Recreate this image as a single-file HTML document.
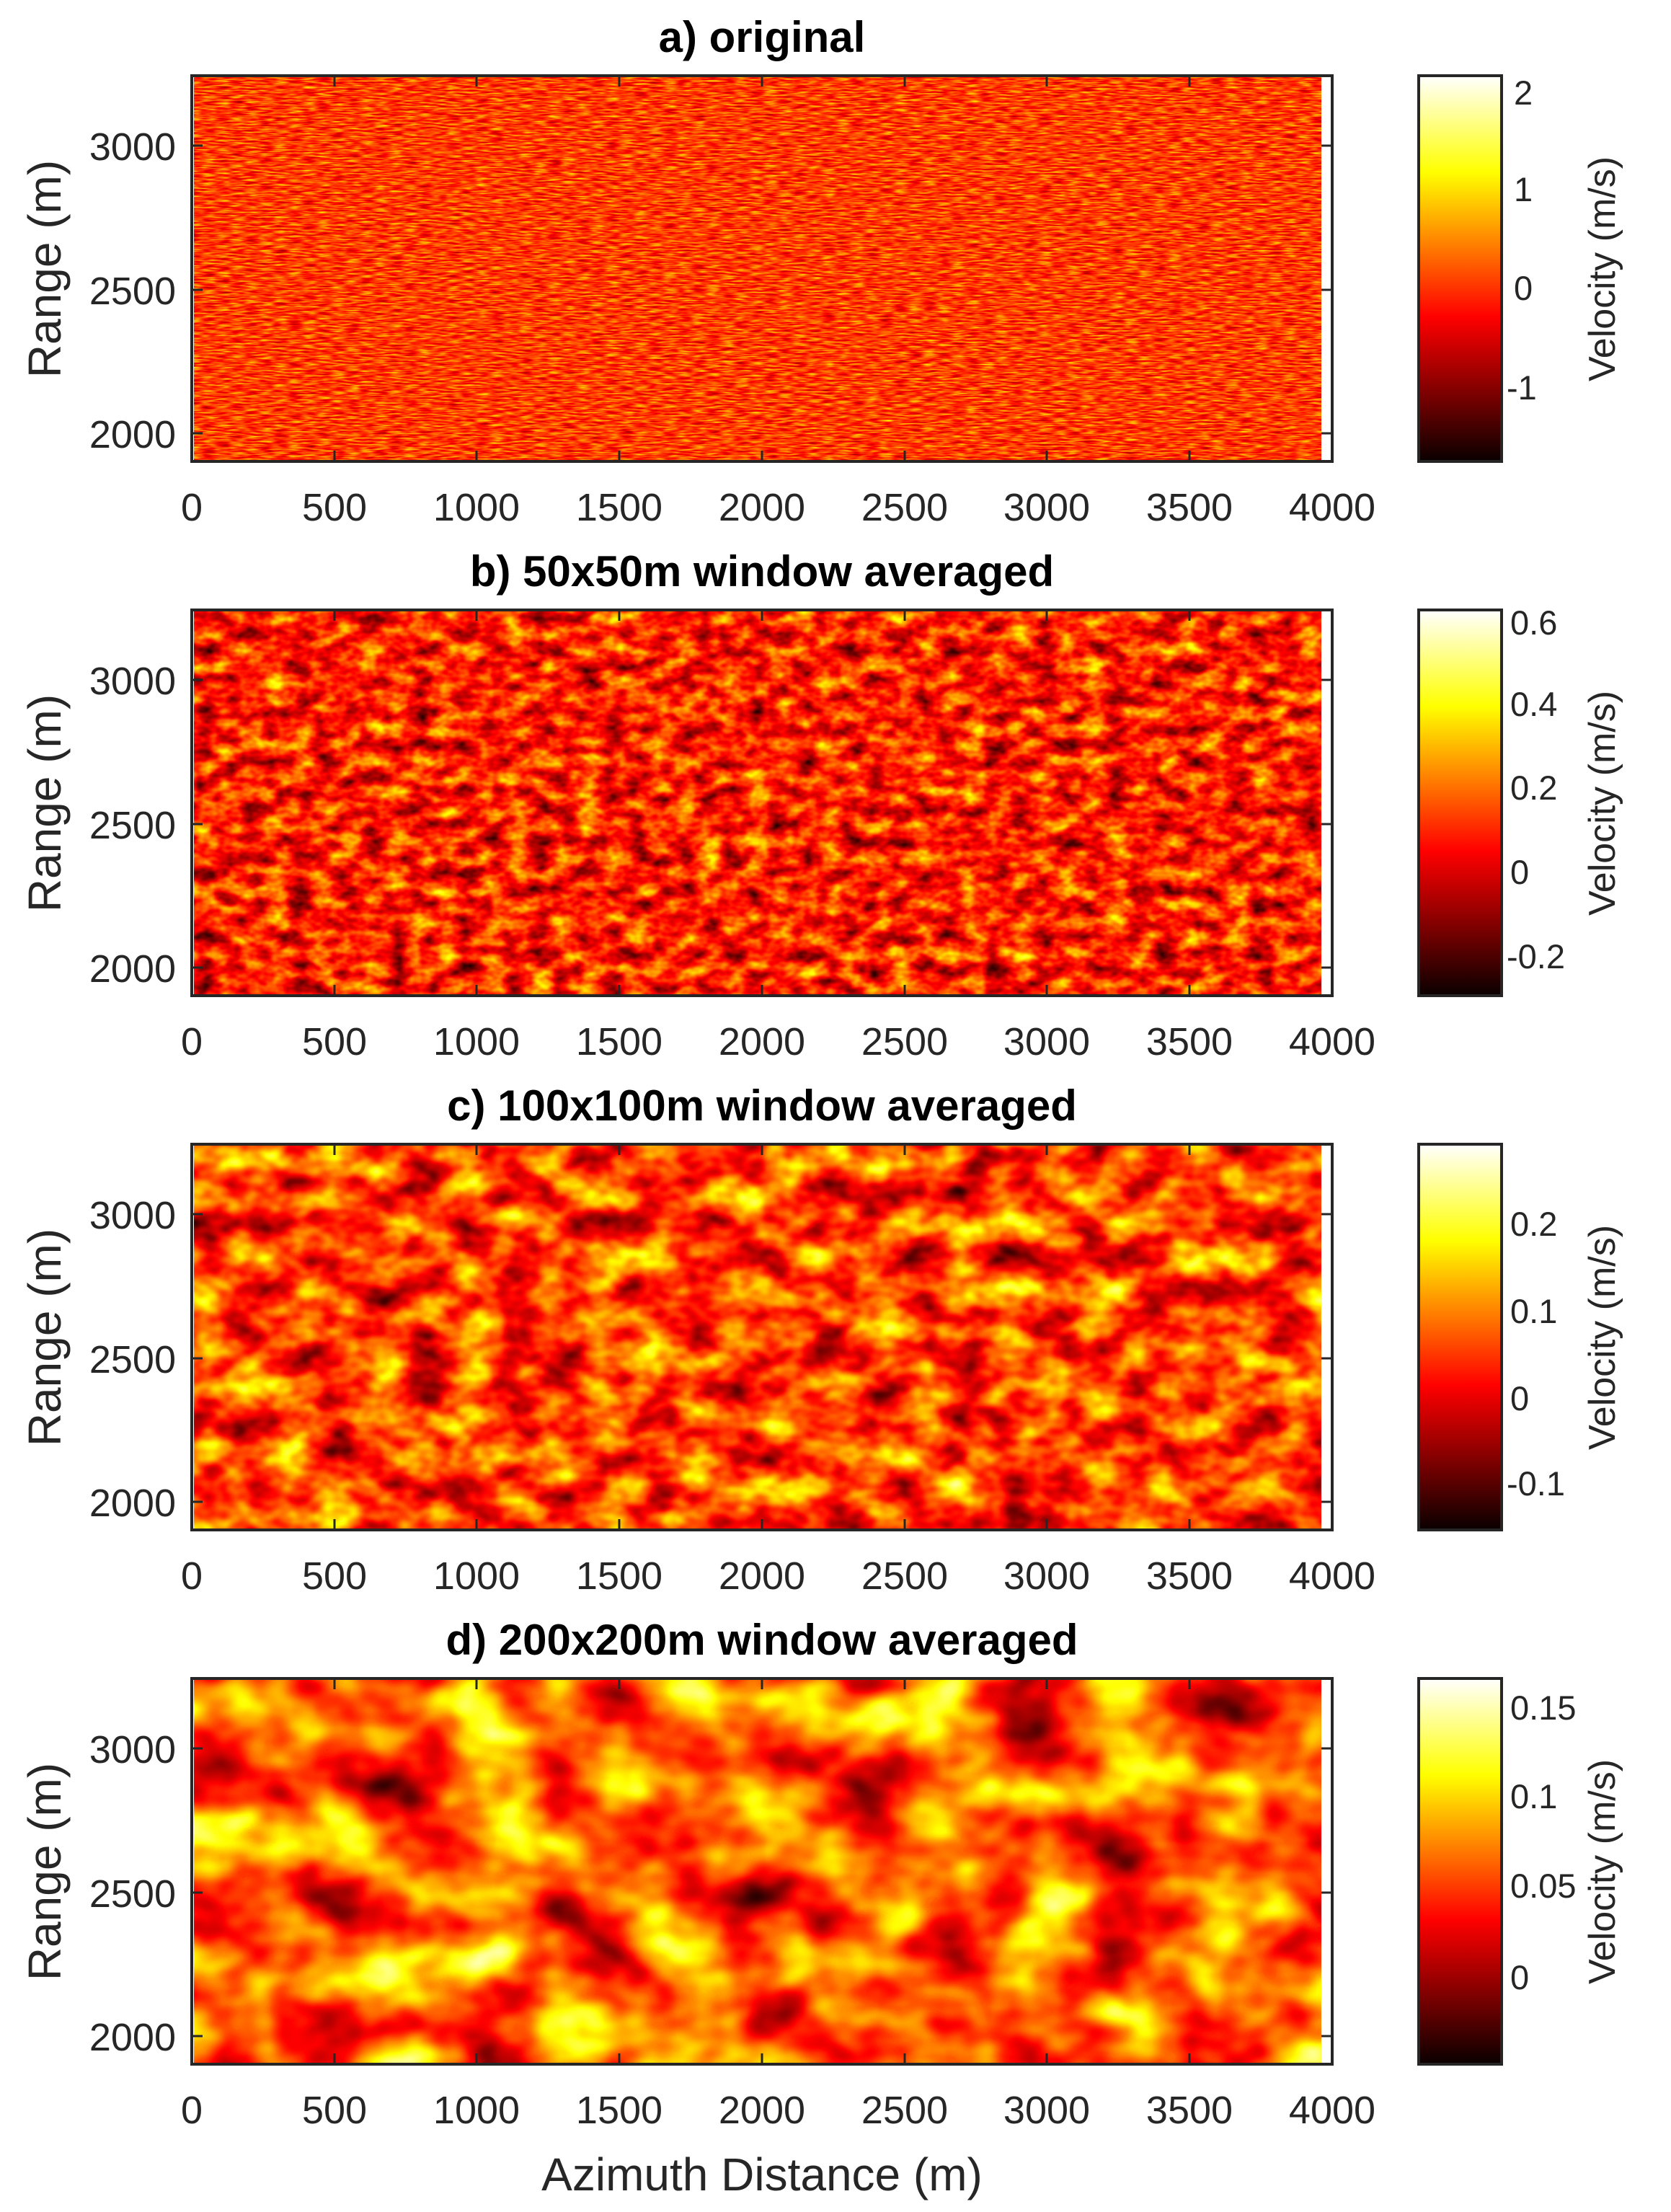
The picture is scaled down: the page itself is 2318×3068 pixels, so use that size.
<!DOCTYPE html>
<html><head><meta charset="utf-8"><style>html,body{margin:0;padding:0;background:#fff}svg{display:block}</style></head>
<body>
<svg width="2318" height="3068" viewBox="0 0 2318 3068" xmlns="http://www.w3.org/2000/svg" font-family="Liberation Sans, sans-serif">
<defs>
<linearGradient id="hot" x1="0" y1="0" x2="0" y2="1">
<stop offset="0" stop-color="#ffffff"/><stop offset="0.25" stop-color="#ffff00"/><stop offset="0.625" stop-color="#ff0000"/><stop offset="1" stop-color="#0a0000"/>
</linearGradient>
<filter id="fa" x="0" y="0" width="100%" height="100%" color-interpolation-filters="sRGB">
<feTurbulence type="fractalNoise" baseFrequency="0.05 0.45" numOctaves="2" seed="3"/>
<feColorMatrix type="matrix" values="1 0 0 0 0 1 0 0 0 0 1 0 0 0 0 0 0 0 0 1"/>
<feComponentTransfer><feFuncR type="linear" slope="0.65" intercept="0.14"/><feFuncG type="linear" slope="0.65" intercept="0.14"/><feFuncB type="linear" slope="0.65" intercept="0.14"/></feComponentTransfer>
<feComponentTransfer><feFuncR type="table" tableValues="0.04 0.37 0.7 1 1 1 1 1 1"/><feFuncG type="table" tableValues="0 0 0 0 0.33 0.67 1 1 1"/><feFuncB type="table" tableValues="0 0 0 0 0 0 0 0.5 1"/></feComponentTransfer>
</filter>
<filter id="fb" x="0" y="0" width="100%" height="100%" color-interpolation-filters="sRGB">
<feTurbulence type="fractalNoise" baseFrequency="0.03 0.045" numOctaves="3" seed="11"/>
<feColorMatrix type="matrix" values="1 0 0 0 0 1 0 0 0 0 1 0 0 0 0 0 0 0 0 1"/>
<feComponentTransfer><feFuncR type="linear" slope="0.9" intercept="-0.03"/><feFuncG type="linear" slope="0.9" intercept="-0.03"/><feFuncB type="linear" slope="0.9" intercept="-0.03"/></feComponentTransfer>
<feComponentTransfer><feFuncR type="table" tableValues="0.04 0.37 0.7 1 1 1 1 1 1"/><feFuncG type="table" tableValues="0 0 0 0 0.33 0.67 1 1 1"/><feFuncB type="table" tableValues="0 0 0 0 0 0 0 0.5 1"/></feComponentTransfer>
</filter>
<filter id="fc" x="0" y="0" width="100%" height="100%" color-interpolation-filters="sRGB">
<feTurbulence type="fractalNoise" baseFrequency="0.016 0.022" numOctaves="3" seed="27"/>
<feColorMatrix type="matrix" values="1 0 0 0 0 1 0 0 0 0 1 0 0 0 0 0 0 0 0 1"/>
<feComponentTransfer><feFuncR type="linear" slope="1.0" intercept="-0.03"/><feFuncG type="linear" slope="1.0" intercept="-0.03"/><feFuncB type="linear" slope="1.0" intercept="-0.03"/></feComponentTransfer>
<feComponentTransfer><feFuncR type="table" tableValues="0.04 0.37 0.7 1 1 1 1 1 1"/><feFuncG type="table" tableValues="0 0 0 0 0.33 0.67 1 1 1"/><feFuncB type="table" tableValues="0 0 0 0 0 0 0 0.5 1"/></feComponentTransfer>
</filter>
<filter id="fd" x="0" y="0" width="100%" height="100%" color-interpolation-filters="sRGB">
<feTurbulence type="fractalNoise" baseFrequency="0.008 0.011" numOctaves="3" seed="5"/>
<feColorMatrix type="matrix" values="1 0 0 0 0 1 0 0 0 0 1 0 0 0 0 0 0 0 0 1"/>
<feComponentTransfer><feFuncR type="linear" slope="1.1" intercept="-0.03"/><feFuncG type="linear" slope="1.1" intercept="-0.03"/><feFuncB type="linear" slope="1.1" intercept="-0.03"/></feComponentTransfer>
<feComponentTransfer><feFuncR type="table" tableValues="0.04 0.37 0.7 1 1 1 1 1 1"/><feFuncG type="table" tableValues="0 0 0 0 0.33 0.67 1 1 1"/><feFuncB type="table" tableValues="0 0 0 0 0 0 0 0.5 1"/></feComponentTransfer>
</filter>
<g id="xt" stroke="#262626" stroke-width="3">
<line x1="464" y1="0" x2="464" y2="-15"/><line x1="661" y1="0" x2="661" y2="-15"/><line x1="859" y1="0" x2="859" y2="-15"/><line x1="1057" y1="0" x2="1057" y2="-15"/><line x1="1255" y1="0" x2="1255" y2="-15"/><line x1="1452" y1="0" x2="1452" y2="-15"/><line x1="1650" y1="0" x2="1650" y2="-15"/>
</g>
<g id="xl" fill="#262626" font-size="54" text-anchor="middle">
<text x="266" y="0">0</text><text x="464" y="0">500</text><text x="661" y="0">1000</text><text x="859" y="0">1500</text><text x="1057" y="0">2000</text><text x="1255" y="0">2500</text><text x="1452" y="0">3000</text><text x="1650" y="0">3500</text><text x="1848" y="0">4000</text>
</g>
<g id="yt" stroke="#262626" stroke-width="3">
<line x1="266" y1="97" x2="281" y2="97"/><line x1="266" y1="297" x2="281" y2="297"/><line x1="266" y1="496" x2="281" y2="496"/>
<line x1="1848" y1="97" x2="1833" y2="97"/><line x1="1848" y1="297" x2="1833" y2="297"/><line x1="1848" y1="496" x2="1833" y2="496"/>
</g>
<g id="yl" fill="#262626" font-size="54" text-anchor="end">
<text x="244" y="117">3000</text><text x="244" y="317">2500</text><text x="244" y="516">2000</text>
<text transform="translate(84,268) rotate(-90)" text-anchor="middle" font-size="64">Range (m)</text>
<rect x="1968" y="0" width="115" height="535" fill="url(#hot)" stroke="#262626" stroke-width="4"/>
<text transform="translate(2240,268) rotate(-90)" text-anchor="middle" font-size="52">Velocity (m/s)</text>
</g>
</defs>

<g transform="translate(0,105)">
<rect x="266" y="0" width="1582" height="535" fill="#fff"/>
<rect x="269" y="2" width="1564" height="531" filter="url(#fa)"/>
<use href="#yt"/><use href="#yl"/>
<g transform="translate(0,535)"><use href="#xt"/></g>
<g transform="scale(1,-1)"><use href="#xt"/></g>
<rect x="266" y="0" width="1582" height="535" fill="none" stroke="#262626" stroke-width="4"/>
<text x="1057" y="-33" font-size="60" font-weight="bold" text-anchor="middle">a) original</text>
<g transform="translate(0,617)"><use href="#xl"/></g>
<g font-size="47" fill="#262626"><text x="2100" y="40">2</text><text x="2100" y="174">1</text><text x="2100" y="311">0</text><text x="2090" y="449">-1</text></g>
</g>

<g transform="translate(0,846)">
<rect x="266" y="0" width="1582" height="535" fill="#fff"/>
<rect x="269" y="2" width="1564" height="531" filter="url(#fb)"/>
<use href="#yt"/><use href="#yl"/>
<g transform="translate(0,535)"><use href="#xt"/></g>
<g transform="scale(1,-1)"><use href="#xt"/></g>
<rect x="266" y="0" width="1582" height="535" fill="none" stroke="#262626" stroke-width="4"/>
<text x="1057" y="-33" font-size="60" font-weight="bold" text-anchor="middle">b) 50x50m window averaged</text>
<g transform="translate(0,617)"><use href="#xl"/></g>
<g font-size="47" fill="#262626"><text x="2095" y="34">0.6</text><text x="2095" y="147">0.4</text><text x="2095" y="263">0.2</text><text x="2095" y="380">0</text><text x="2090" y="497">-0.2</text></g>
</g>

<g transform="translate(0,1587)">
<rect x="266" y="0" width="1582" height="535" fill="#fff"/>
<rect x="269" y="2" width="1564" height="531" filter="url(#fc)"/>
<use href="#yt"/><use href="#yl"/>
<g transform="translate(0,535)"><use href="#xt"/></g>
<g transform="scale(1,-1)"><use href="#xt"/></g>
<rect x="266" y="0" width="1582" height="535" fill="none" stroke="#262626" stroke-width="4"/>
<text x="1057" y="-33" font-size="60" font-weight="bold" text-anchor="middle">c) 100x100m window averaged</text>
<g transform="translate(0,617)"><use href="#xl"/></g>
<g font-size="47" fill="#262626"><text x="2095" y="127">0.2</text><text x="2095" y="248">0.1</text><text x="2095" y="369">0</text><text x="2090" y="487">-0.1</text></g>
</g>

<g transform="translate(0,2328)">
<rect x="266" y="0" width="1582" height="535" fill="#fff"/>
<rect x="269" y="2" width="1564" height="531" filter="url(#fd)"/>
<use href="#yt"/><use href="#yl"/>
<g transform="translate(0,535)"><use href="#xt"/></g>
<g transform="scale(1,-1)"><use href="#xt"/></g>
<rect x="266" y="0" width="1582" height="535" fill="none" stroke="#262626" stroke-width="4"/>
<text x="1057" y="-33" font-size="60" font-weight="bold" text-anchor="middle">d) 200x200m window averaged</text>
<g transform="translate(0,617)"><use href="#xl"/></g>
<g font-size="47" fill="#262626"><text x="2095" y="57">0.15</text><text x="2095" y="180">0.1</text><text x="2095" y="304">0.05</text><text x="2095" y="431">0</text></g>
</g>

<text x="1057" y="3038" font-size="64" fill="#262626" text-anchor="middle">Azimuth Distance (m)</text>
</svg>
</body></html>
